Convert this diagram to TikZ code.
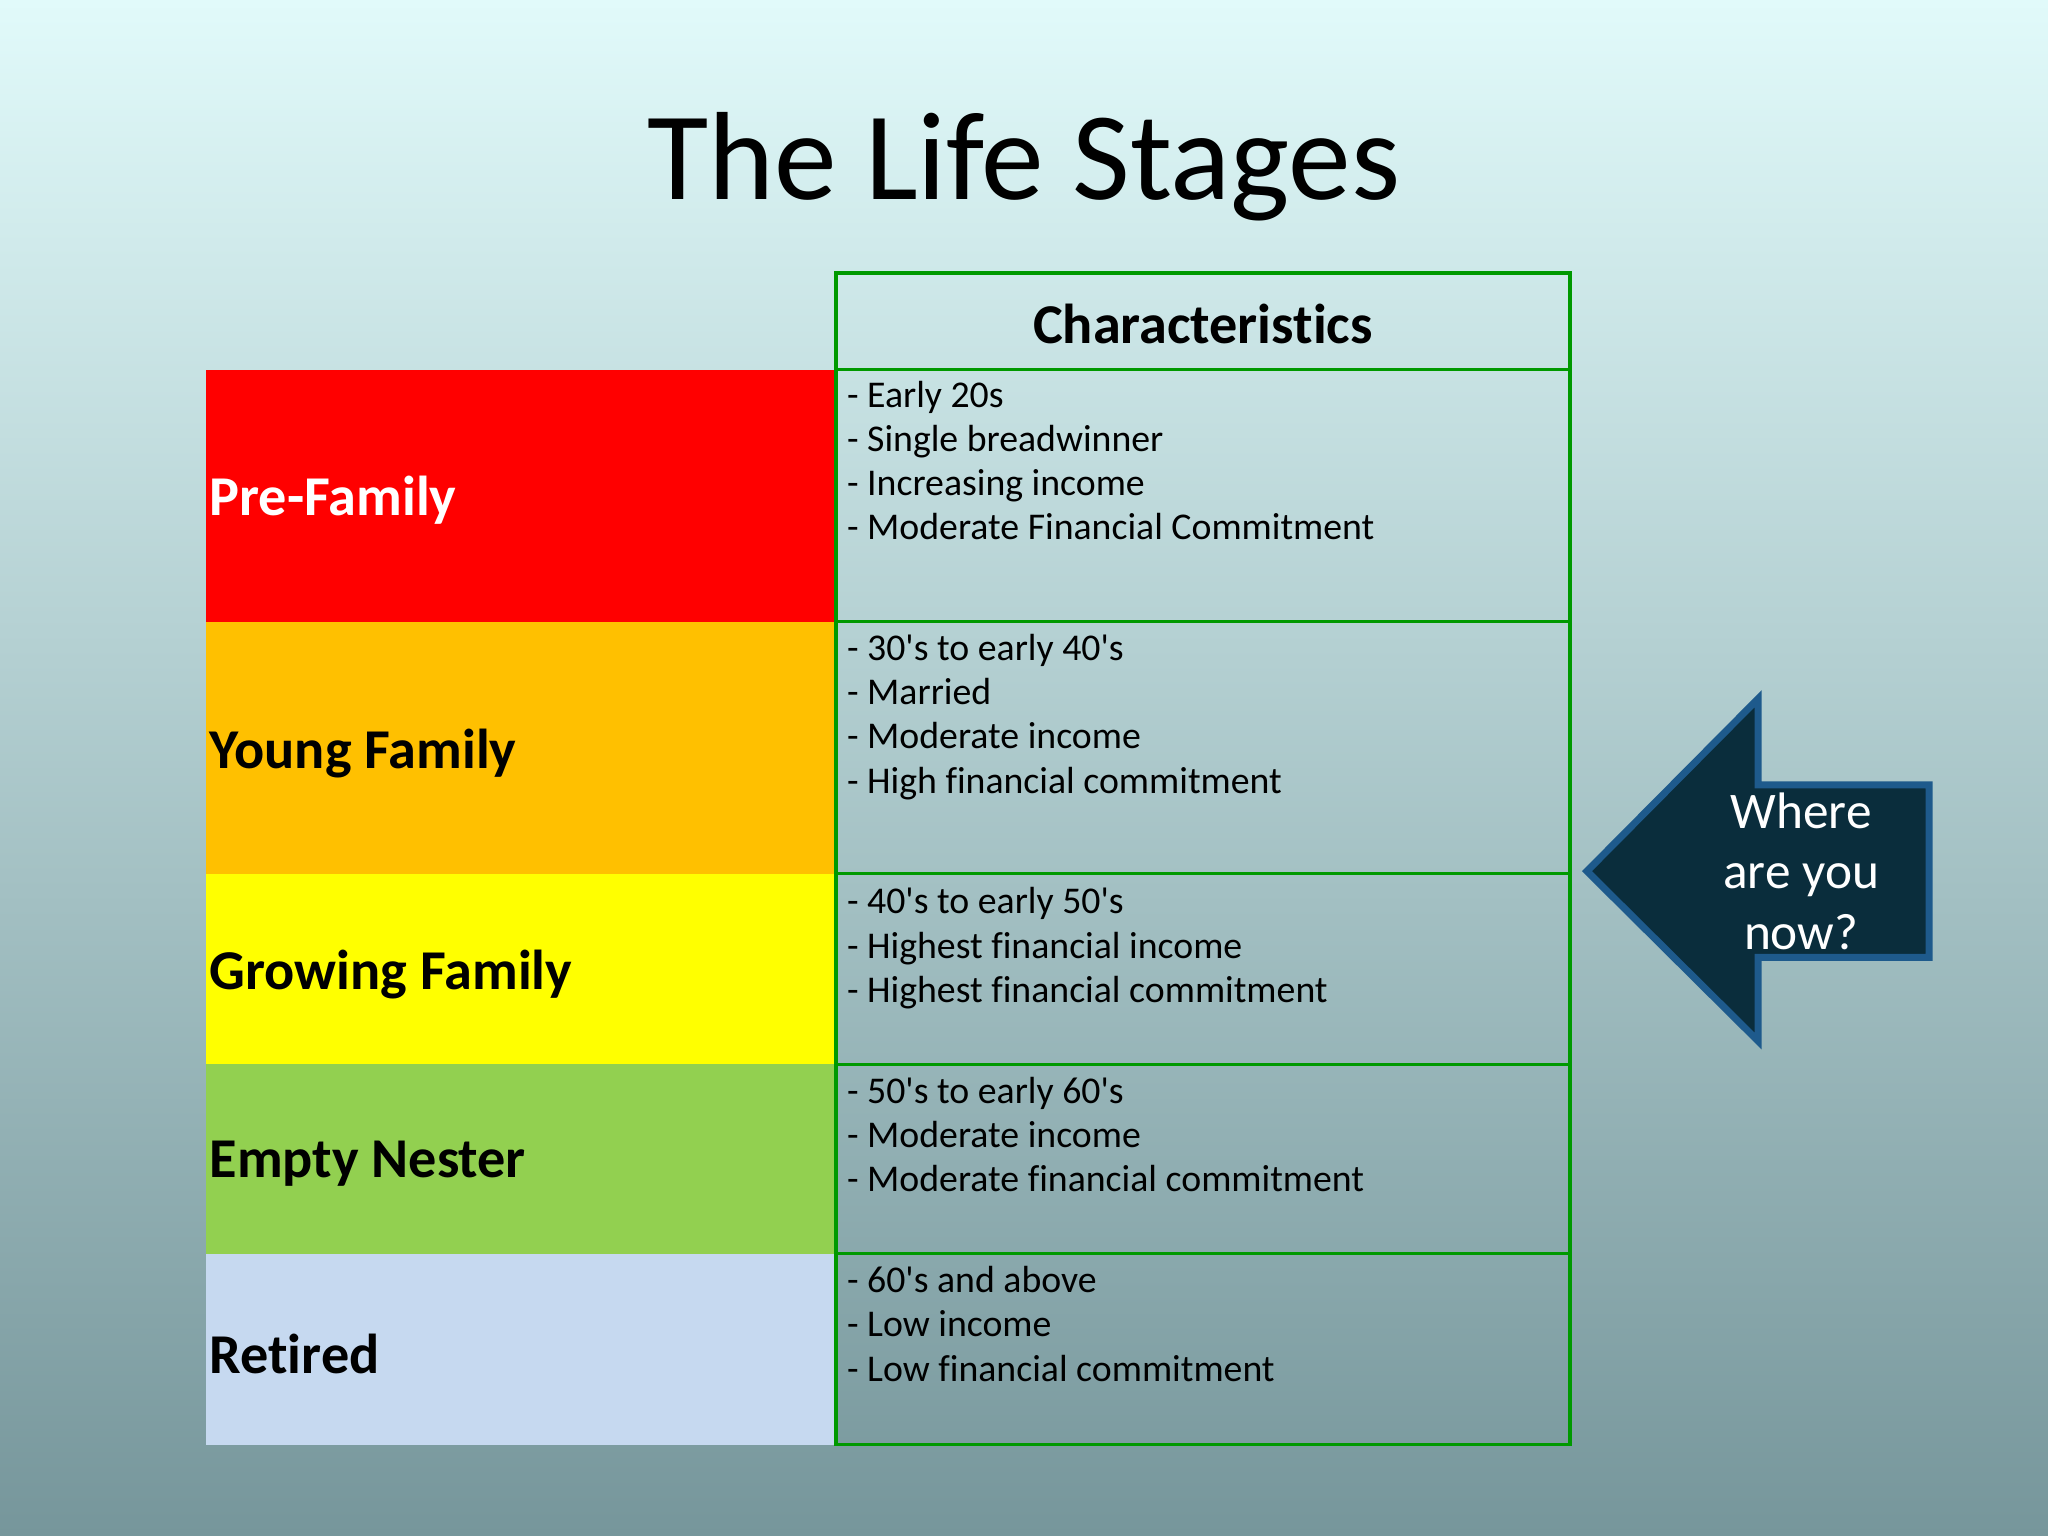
\documentclass[tikz,border=0pt]{standalone}
\usepackage{fontspec}
\setmainfont{Carlito}[Ligatures={NoCommon}]
\begin{document}
\begin{tikzpicture}[x=0.013061cm,y=-0.013061cm,
  stage/.style={font=\bfseries\fontsize{16}{19}\selectfont,anchor=west,inner sep=0pt},
  chars/.style={font=\fontsize{10.75}{12.6}\selectfont,anchor=north west,align=left,inner sep=0pt},
  grid/.style={draw=green!60!black,line width=0.9pt}]
\definecolor{bgtop}{RGB}{225,250,250}
\definecolor{bgbot}{RGB}{118,150,155}
\definecolor{cred}{RGB}{255,0,0}
\definecolor{corange}{RGB}{255,192,0}
\definecolor{cyellow}{RGB}{255,255,0}
\definecolor{cgreen}{RGB}{146,208,80}
\definecolor{cblue}{RGB}{198,217,240}
\definecolor{arrfill}{RGB}{10,45,60}
\definecolor{arrline}{RGB}{30,90,140}
\useasboundingbox (0,0) rectangle (1568,1176);
\shade[top color=bgtop,bottom color=bgbot] (0,0) rectangle (1568,1176);
\node[font=\fontsize{35.7}{43}\selectfont] (title) at (784,128) {The Life Stages};
\fill[cred] (158,283) rectangle (640,476);
\fill[corange] (158,476) rectangle (640,669);
\fill[cyellow] (158,669) rectangle (640,815);
\fill[cgreen] (158,815) rectangle (640,960);
\fill[cblue] (158,960) rectangle (640,1106);
\node[stage,text=white] (s1) at (160,383) {Pre-Family};
\node[stage] (s2) at (160,577) {Young Family};
\node[stage] (s3) at (160,746) {Growing Family};
\node[stage] (s4) at (160,891) {Empty Nester};
\node[stage] (s5) at (160,1037) {Retired};
\draw[grid] (640,209) rectangle (1202,1106);
\foreach \y in {283,476,669,815,960} \draw[grid] (640,\y) -- (1202,\y);
\node[font=\bfseries\fontsize{16}{19}\selectfont] (hd) at (921,248) {Characteristics};
\node[chars] (c1) at (648,291) {- Early 20s\\- Single breadwinner\\- Increasing income\\- Moderate Financial Commitment};
\node[chars] (c2) at (648,485) {- 30\textquotesingle s to early 40\textquotesingle s\\- Married\\- Moderate income\\- High financial commitment};
\node[chars] (c3) at (648,679) {- 40\textquotesingle s to early 50\textquotesingle s\\- Highest financial income\\- Highest financial commitment};
\node[chars] (c4) at (648,824) {- 50\textquotesingle s to early 60\textquotesingle s\\- Moderate income\\- Moderate financial commitment};
\node[chars] (c5) at (648,969) {- 60\textquotesingle s and above\\- Low income\\- Low financial commitment};
\draw[fill=arrfill,draw=arrline,line width=2pt,line join=miter]
  (1215,667) -- (1346,535) -- (1346,601) -- (1477,601) -- (1477,733) -- (1346,733) -- (1346,797) -- cycle;
\node[text=white,align=center,font=\fontsize{14.6}{17.3}\selectfont] (q) at (1379,667) {Where\\are you\\now?};
\end{tikzpicture}
\end{document}
